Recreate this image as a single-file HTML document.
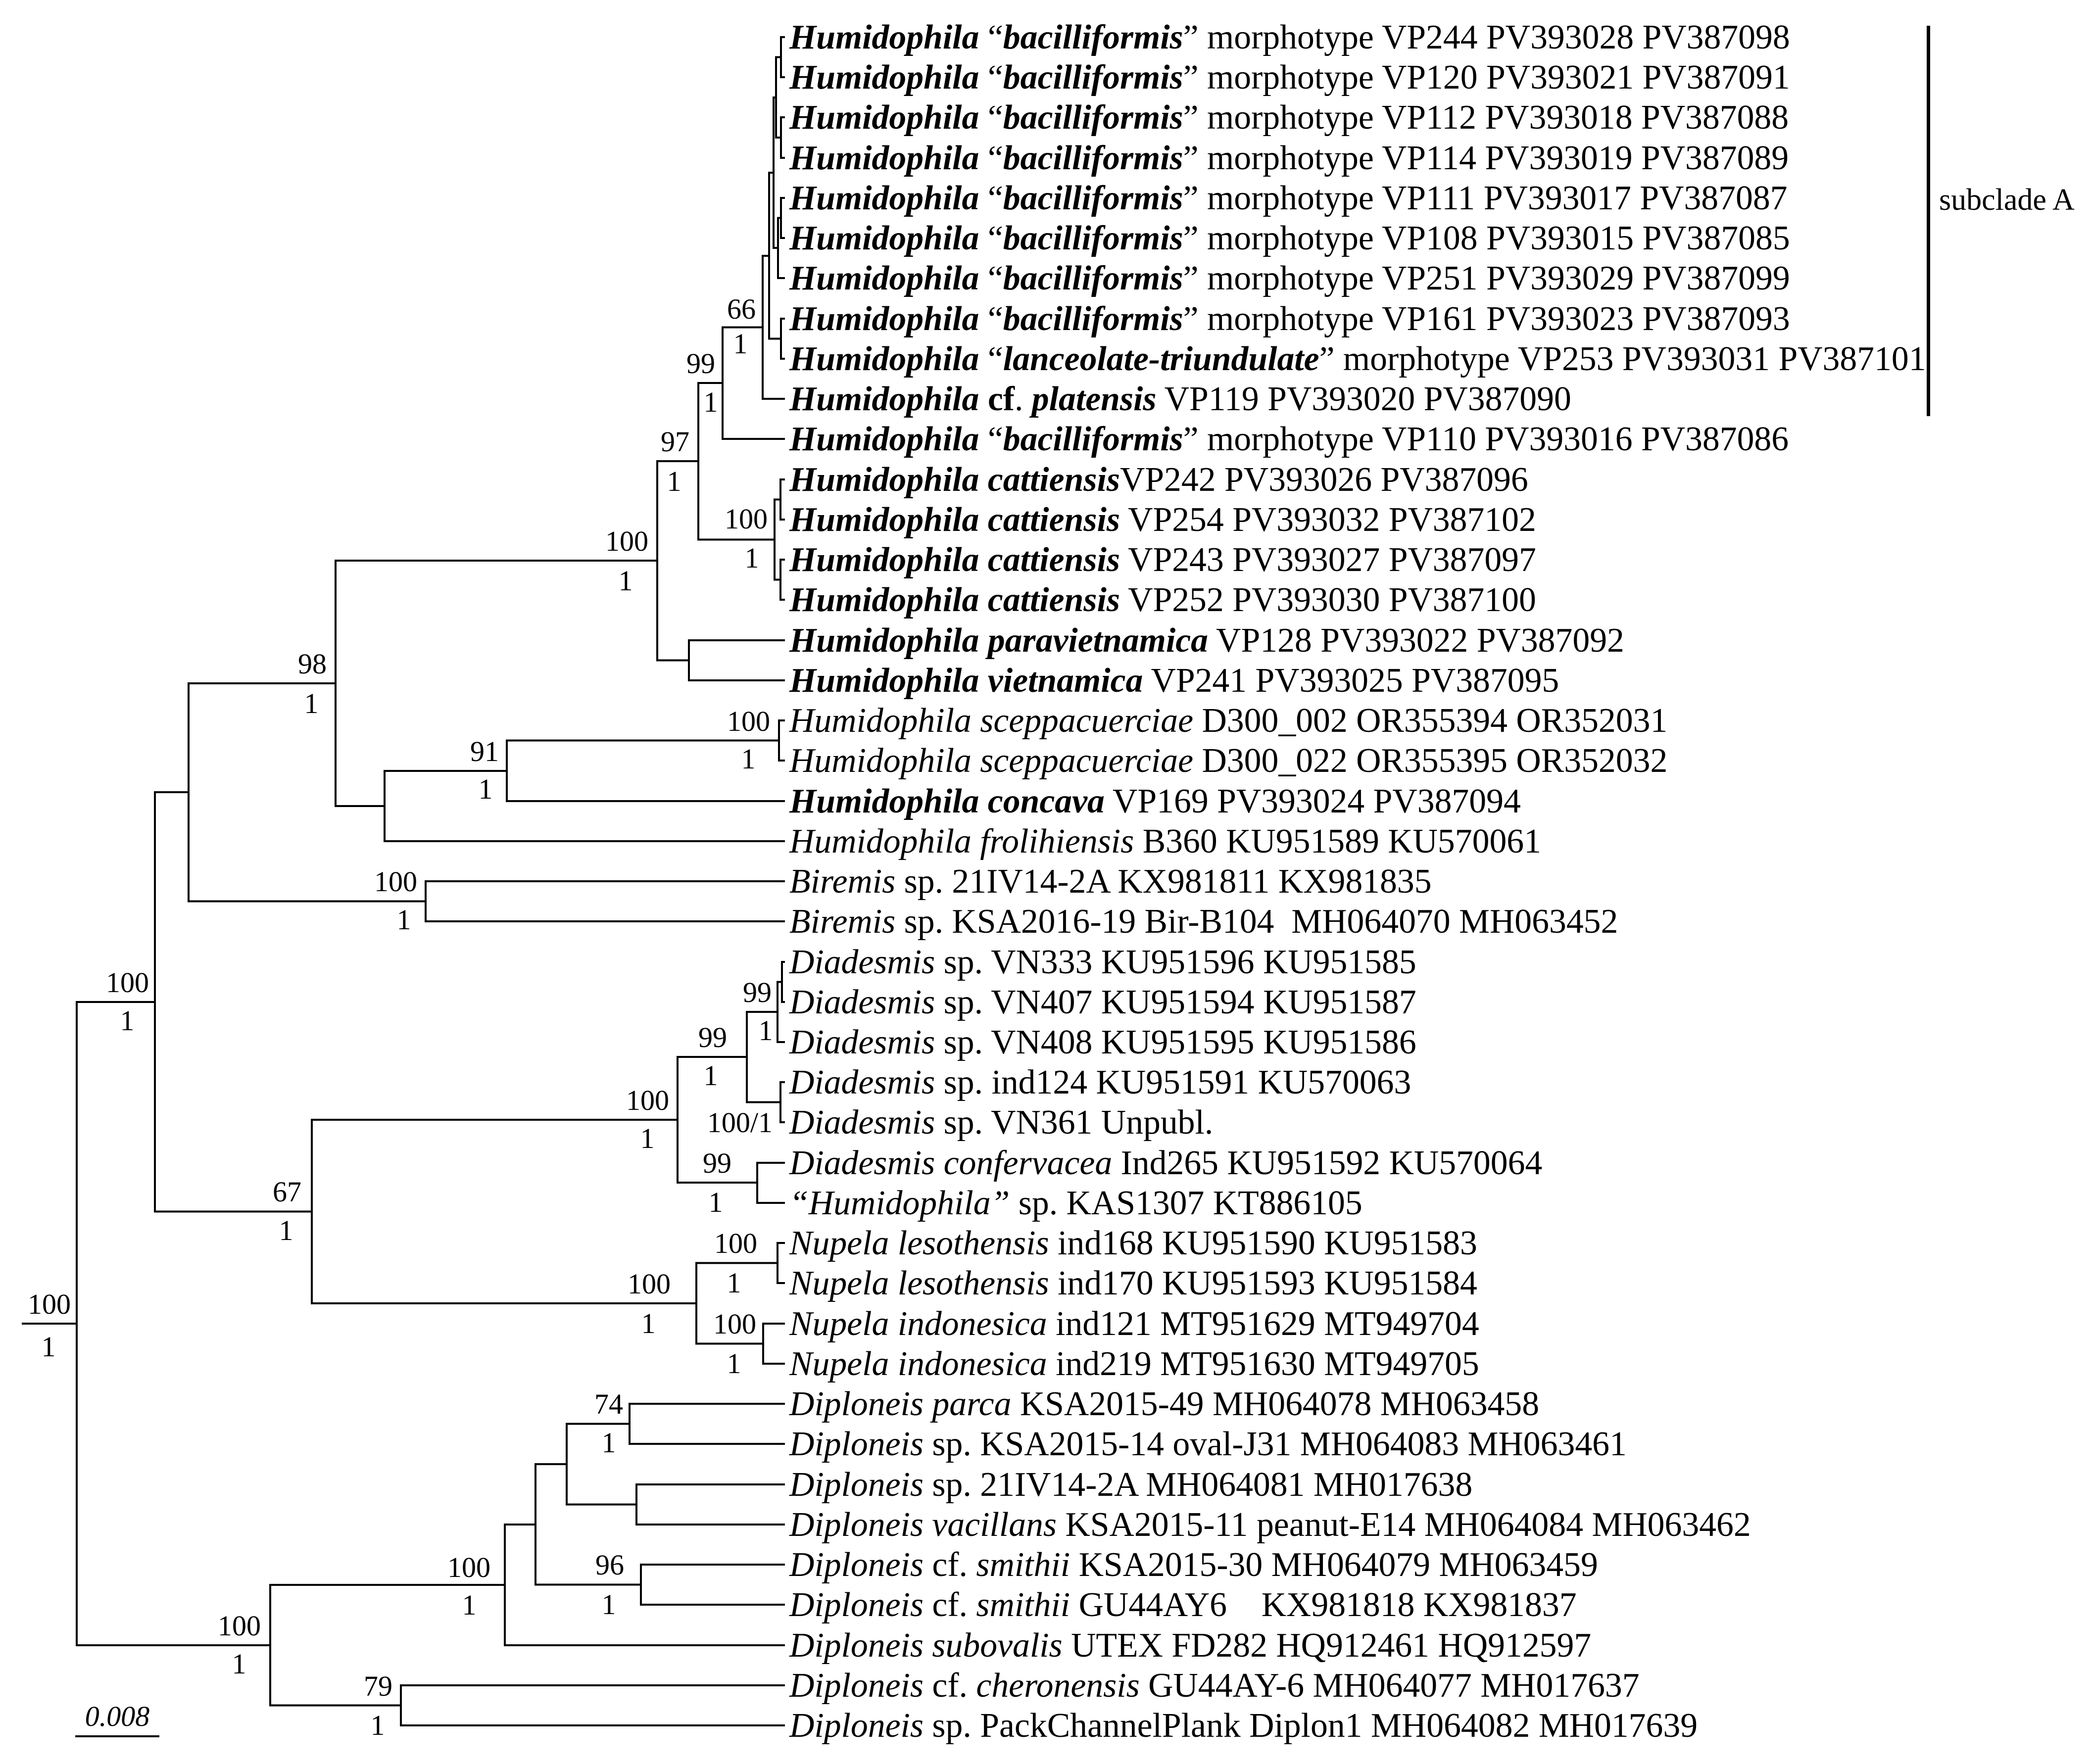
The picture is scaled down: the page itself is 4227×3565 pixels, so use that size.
<!DOCTYPE html>
<html><head><meta charset="utf-8"><style>
html,body{margin:0;padding:0;background:#fff;}
svg{display:block;}
.t{font-family:"Liberation Serif",serif;font-size:69.7px;fill:#000;}
.s{font-family:"Liberation Serif",serif;font-size:58px;fill:#000;}
</style></head><body>
<svg width="4227" height="3565" viewBox="0 0 4227 3565" xmlns="http://www.w3.org/2000/svg">
<g fill="none" stroke="#000" stroke-width="4" stroke-linecap="square">
<path d="M1584 75 H1578 V156 H1584"/>
<path d="M1584 237 H1578 V319 H1584"/>
<path d="M1578 115.5 H1568 V278 H1578"/>
<path d="M1584 400 H1578 V481 H1584"/>
<path d="M1578 440.5 H1572 V562 H1584"/>
<path d="M1568 197 H1563 V501 H1572"/>
<path d="M1584 644 H1578 V725 H1584"/>
<path d="M1563 349 H1554 V684.5 H1578"/>
<path d="M1554 517 H1541 V806 H1584"/>
<path d="M1541 661.5 H1460 V887 H1584"/>
<path d="M1584 969 H1577 V1050 H1584"/>
<path d="M1584 1131 H1577 V1212 H1584"/>
<path d="M1577 1009.5 H1565 V1171.5 H1577"/>
<path d="M1460 774 H1411 V1090.5 H1565"/>
<path d="M1584 1294 H1392 V1375 H1584"/>
<path d="M1411 932 H1328 V1334.5 H1392"/>
<path d="M1584 1456 H1574 V1537 H1584"/>
<path d="M1574 1496.5 H1024 V1619 H1584"/>
<path d="M1024 1558 H777 V1700 H1584"/>
<path d="M1328 1133 H678 V1629 H777"/>
<path d="M1584 1781 H860 V1862 H1584"/>
<path d="M678 1381 H381 V1821.5 H860"/>
<path d="M1584 1944 H1580 V2025 H1584"/>
<path d="M1580 1984.5 H1571 V2106 H1584"/>
<path d="M1584 2187 H1577 V2268 H1584"/>
<path d="M1571 2045 H1509 V2227.5 H1577"/>
<path d="M1584 2350 H1530 V2431 H1584"/>
<path d="M1509 2136 H1369 V2390 H1530"/>
<path d="M1584 2512 H1571 V2593 H1584"/>
<path d="M1584 2675 H1542 V2756 H1584"/>
<path d="M1571 2552.5 H1407 V2715.5 H1542"/>
<path d="M1369 2263 H630 V2634 H1407"/>
<path d="M381 1601 H313 V2448.5 H630"/>
<path d="M1584 2837 H1272 V2918 H1584"/>
<path d="M1584 3000 H1286 V3081 H1584"/>
<path d="M1272 2877.5 H1145 V3040.5 H1286"/>
<path d="M1584 3162 H1295 V3243 H1584"/>
<path d="M1145 2959 H1082 V3202.5 H1295"/>
<path d="M1082 3081 H1020 V3325 H1584"/>
<path d="M1584 3406 H810 V3487 H1584"/>
<path d="M1020 3203 H546 V3446.5 H810"/>
<path d="M313 2025 H155 V3325 H546"/>
<path d="M46 2675 H155"/>
<path d="M154 3509 H320"/>
</g>
<rect x="3893" y="52" width="7" height="789" fill="#000"/>
<text class="s" font-family="Liberation Serif, serif" x="3918" y="424" style="font-size:62px">subclade A</text>
<text class="s" font-family="Liberation Serif, serif" x="237" y="3488" text-anchor="middle" font-style="italic">0.008</text>

<g class="s" font-family="Liberation Serif, serif">
<text x="1310" y="1113" text-anchor="end">100</text><text x="1264" y="1193" text-anchor="middle">1</text>
<text x="660" y="1361" text-anchor="end">98</text><text x="629" y="1441" text-anchor="middle">1</text>
<text x="1393" y="912" text-anchor="end">97</text><text x="1362" y="992" text-anchor="middle">1</text>
<text x="1445" y="754" text-anchor="end">99</text><text x="1436" y="832" text-anchor="middle">1</text>
<text x="1527" y="644" text-anchor="end">66</text><text x="1496" y="714" text-anchor="middle">1</text>
<text x="1551" y="1068" text-anchor="end">100</text><text x="1519" y="1147" text-anchor="middle">1</text>
<text x="1556" y="1477" text-anchor="end">100</text><text x="1512" y="1553" text-anchor="middle">1</text>
<text x="1008" y="1538" text-anchor="end">91</text><text x="981" y="1614" text-anchor="middle">1</text>
<text x="843" y="1801" text-anchor="end">100</text><text x="816" y="1878" text-anchor="middle">1</text>
<text x="301" y="2005" text-anchor="end">100</text><text x="257" y="2082" text-anchor="middle">1</text>
<text x="143" y="2655" text-anchor="end">100</text><text x="98" y="2741" text-anchor="middle">1</text>
<text x="609" y="2428" text-anchor="end">67</text><text x="578" y="2506" text-anchor="middle">1</text>
<text x="1352" y="2243" text-anchor="end">100</text><text x="1308" y="2320" text-anchor="middle">1</text>
<text x="1469" y="2116" text-anchor="end">99</text><text x="1436" y="2193" text-anchor="middle">1</text>
<text x="1559" y="2025" text-anchor="end">99</text><text x="1547" y="2102" text-anchor="middle">1</text>
<text x="1561" y="2288" text-anchor="end">100/1</text>
<text x="1478" y="2370" text-anchor="end">99</text><text x="1446" y="2449" text-anchor="middle">1</text>
<text x="1530" y="2532" text-anchor="end">100</text><text x="1483" y="2612" text-anchor="middle">1</text>
<text x="1355" y="2614" text-anchor="end">100</text><text x="1310" y="2694" text-anchor="middle">1</text>
<text x="1528" y="2695" text-anchor="end">100</text><text x="1483" y="2775" text-anchor="middle">1</text>
<text x="1259" y="2857" text-anchor="end">74</text><text x="1230" y="2935" text-anchor="middle">1</text>
<text x="1261" y="3182" text-anchor="end">96</text><text x="1230" y="3262" text-anchor="middle">1</text>
<text x="991" y="3187" text-anchor="end">100</text><text x="948" y="3263" text-anchor="middle">1</text>
<text x="527" y="3305" text-anchor="end">100</text><text x="483" y="3382" text-anchor="middle">1</text>
<text x="793" y="3427" text-anchor="end">79</text><text x="763" y="3506" text-anchor="middle">1</text>
</g>

<g class="t" font-family="Liberation Serif, serif">
<text x="1595" y="98"><tspan font-weight="bold" font-style="italic">Humidophila</tspan> “<tspan font-weight="bold" font-style="italic">bacilliformis</tspan>” morphotype VP244 PV393028 PV387098</text>
<text x="1595" y="179"><tspan font-weight="bold" font-style="italic">Humidophila</tspan> “<tspan font-weight="bold" font-style="italic">bacilliformis</tspan>” morphotype VP120 PV393021 PV387091</text>
<text x="1595" y="260"><tspan font-weight="bold" font-style="italic">Humidophila</tspan> “<tspan font-weight="bold" font-style="italic">bacilliformis</tspan>” morphotype VP112 PV393018 PV387088</text>
<text x="1595" y="342"><tspan font-weight="bold" font-style="italic">Humidophila</tspan> “<tspan font-weight="bold" font-style="italic">bacilliformis</tspan>” morphotype VP114 PV393019 PV387089</text>
<text x="1595" y="423"><tspan font-weight="bold" font-style="italic">Humidophila</tspan> “<tspan font-weight="bold" font-style="italic">bacilliformis</tspan>” morphotype VP111 PV393017 PV387087</text>
<text x="1595" y="504"><tspan font-weight="bold" font-style="italic">Humidophila</tspan> “<tspan font-weight="bold" font-style="italic">bacilliformis</tspan>” morphotype VP108 PV393015 PV387085</text>
<text x="1595" y="585"><tspan font-weight="bold" font-style="italic">Humidophila</tspan> “<tspan font-weight="bold" font-style="italic">bacilliformis</tspan>” morphotype VP251 PV393029 PV387099</text>
<text x="1595" y="667"><tspan font-weight="bold" font-style="italic">Humidophila</tspan> “<tspan font-weight="bold" font-style="italic">bacilliformis</tspan>” morphotype VP161 PV393023 PV387093</text>
<text x="1595" y="748"><tspan font-weight="bold" font-style="italic">Humidophila</tspan> “<tspan font-weight="bold" font-style="italic">lanceolate-triundulate</tspan>” morphotype VP253 PV393031 PV387101</text>
<text x="1595" y="829"><tspan font-weight="bold" font-style="italic">Humidophila</tspan> <tspan font-weight="bold">cf</tspan>. <tspan font-weight="bold" font-style="italic">platensis</tspan> VP119 PV393020 PV387090</text>
<text x="1595" y="910"><tspan font-weight="bold" font-style="italic">Humidophila</tspan> “<tspan font-weight="bold" font-style="italic">bacilliformis</tspan>” morphotype VP110 PV393016 PV387086</text>
<text x="1595" y="992"><tspan font-weight="bold" font-style="italic">Humidophila cattiensis</tspan>VP242 PV393026 PV387096</text>
<text x="1595" y="1073"><tspan font-weight="bold" font-style="italic">Humidophila cattiensis</tspan> VP254 PV393032 PV387102</text>
<text x="1595" y="1154"><tspan font-weight="bold" font-style="italic">Humidophila cattiensis</tspan> VP243 PV393027 PV387097</text>
<text x="1595" y="1235"><tspan font-weight="bold" font-style="italic">Humidophila cattiensis</tspan> VP252 PV393030 PV387100</text>
<text x="1595" y="1317"><tspan font-weight="bold" font-style="italic">Humidophila paravietnamica</tspan> VP128 PV393022 PV387092</text>
<text x="1595" y="1398"><tspan font-weight="bold" font-style="italic">Humidophila vietnamica</tspan> VP241 PV393025 PV387095</text>
<text x="1595" y="1479"><tspan font-style="italic">Humidophila sceppacuerciae</tspan> D300_002 OR355394 OR352031</text>
<text x="1595" y="1560"><tspan font-style="italic">Humidophila sceppacuerciae</tspan> D300_022 OR355395 OR352032</text>
<text x="1595" y="1642"><tspan font-weight="bold" font-style="italic">Humidophila concava</tspan> VP169 PV393024 PV387094</text>
<text x="1595" y="1723"><tspan font-style="italic">Humidophila frolihiensis</tspan> B360 KU951589 KU570061</text>
<text x="1595" y="1804"><tspan font-style="italic">Biremis</tspan> sp. 21IV14-2A KX981811 KX981835</text>
<text x="1595" y="1885" xml:space="preserve"><tspan font-style="italic">Biremis</tspan> sp. KSA2016-19 Bir-B104  MH064070 MH063452</text>
<text x="1595" y="1967"><tspan font-style="italic">Diadesmis</tspan> sp. VN333 KU951596 KU951585</text>
<text x="1595" y="2048"><tspan font-style="italic">Diadesmis</tspan> sp. VN407 KU951594 KU951587</text>
<text x="1595" y="2129"><tspan font-style="italic">Diadesmis</tspan> sp. VN408 KU951595 KU951586</text>
<text x="1595" y="2210"><tspan font-style="italic">Diadesmis</tspan> sp. ind124 KU951591 KU570063</text>
<text x="1595" y="2291"><tspan font-style="italic">Diadesmis</tspan> sp. VN361 Unpubl.</text>
<text x="1595" y="2373"><tspan font-style="italic">Diadesmis confervacea</tspan> Ind265 KU951592 KU570064</text>
<text x="1595" y="2454"><tspan font-style="italic">“Humidophila”</tspan> sp. KAS1307 KT886105</text>
<text x="1595" y="2535"><tspan font-style="italic">Nupela lesothensis</tspan> ind168 KU951590 KU951583</text>
<text x="1595" y="2616"><tspan font-style="italic">Nupela lesothensis</tspan> ind170 KU951593 KU951584</text>
<text x="1595" y="2698"><tspan font-style="italic">Nupela indonesica</tspan> ind121 MT951629 MT949704</text>
<text x="1595" y="2779"><tspan font-style="italic">Nupela indonesica</tspan> ind219 MT951630 MT949705</text>
<text x="1595" y="2860"><tspan font-style="italic">Diploneis parca</tspan> KSA2015-49 MH064078 MH063458</text>
<text x="1595" y="2941"><tspan font-style="italic">Diploneis</tspan> sp. KSA2015-14 oval-J31 MH064083 MH063461</text>
<text x="1595" y="3023"><tspan font-style="italic">Diploneis</tspan> sp. 21IV14-2A MH064081 MH017638</text>
<text x="1595" y="3104"><tspan font-style="italic">Diploneis vacillans</tspan> KSA2015-11 peanut-E14 MH064084 MH063462</text>
<text x="1595" y="3185"><tspan font-style="italic">Diploneis</tspan> cf. <tspan font-style="italic">smithii</tspan> KSA2015-30 MH064079 MH063459</text>
<text x="1595" y="3266" xml:space="preserve"><tspan font-style="italic">Diploneis</tspan> cf. <tspan font-style="italic">smithii</tspan> GU44AY6    KX981818 KX981837</text>
<text x="1595" y="3348"><tspan font-style="italic">Diploneis subovalis</tspan> UTEX FD282 HQ912461 HQ912597</text>
<text x="1595" y="3429"><tspan font-style="italic">Diploneis</tspan> cf. <tspan font-style="italic">cheronensis</tspan> GU44AY-6 MH064077 MH017637</text>
<text x="1595" y="3510"><tspan font-style="italic">Diploneis</tspan> sp. PackChannelPlank Diplon1 MH064082 MH017639</text>
</g>
</svg>
</body></html>
